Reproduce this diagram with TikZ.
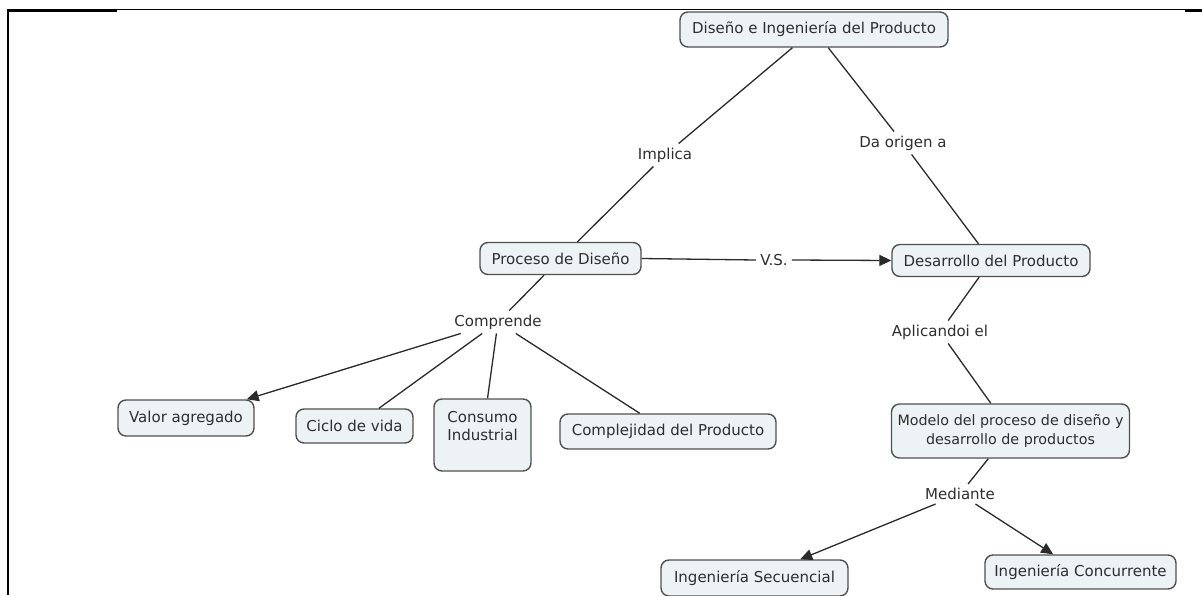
\documentclass[tikz,border=0pt]{standalone}
\usepackage{fontspec}
\setmainfont{DejaVu Sans}
\usetikzlibrary{arrows.meta}
\definecolor{boxfill}{HTML}{EDF2F5}
\definecolor{boxline}{HTML}{505050}
\definecolor{txt}{HTML}{2E2E2E}
\definecolor{lnk}{HTML}{2A2A2A}
\begin{document}
\begin{tikzpicture}[x=1pt,y=-1pt,
  concept/.style={draw=boxline, fill=boxfill, line width=1.4pt, rounded corners=8pt,
    text=txt, font=\fontsize{15}{19}\selectfont, inner sep=0pt, align=center},
  linkword/.style={text=txt, font=\fontsize{15}{18}\selectfont, inner sep=4pt},
  conn/.style={draw=lnk, line width=1.3pt},
  arr/.style={conn, -{Triangle[length=12pt,width=11pt]}},
  frame/.style={draw=black, line cap=butt}
]
\useasboundingbox (0,0) rectangle (1202,595);
% frame
\coordinate (ftl) at (8,9.5);
\coordinate (ftr) at (1202,9.5);
\coordinate (fbl) at (8,595);
\draw[frame, line width=0.9pt] (ftl) -- (ftr);
\draw[frame, line width=2.6pt] (8,10.5) -- (117,10.5);
\draw[frame, line width=2.6pt] (1185,10.5) -- (1202,10.5);
\draw[frame, line width=2.6pt] (8,9) -- (fbl);

% concepts
\node[concept, minimum width=268pt, minimum height=35pt] (top) at (814,29.5) {Diseño e Ingeniería del Producto};
\node[concept, minimum width=161pt, minimum height=32pt] (proc) at (560.5,258.5) {Proceso de Diseño};
\node[concept, minimum width=198pt, minimum height=32pt] (des) at (991,260.5) {Desarrollo del Producto};
\node[concept, minimum width=136pt, minimum height=36pt] (valor) at (186,418) {Valor agregado};
\node[concept, minimum width=117pt, minimum height=34pt] (ciclo) at (354.5,426) {Ciclo de vida};
\node[concept, minimum width=97pt, minimum height=72pt] (cons) at (482.5,435)
  {\parbox[c][72pt][t]{92pt}{\centering\baselineskip=18pt\rule{0pt}{23pt}Consumo\\Industrial}};
\node[concept, minimum width=216pt, minimum height=35pt] (compl) at (668,431.5) {Complejidad del Producto};
\node[concept, minimum width=238pt, minimum height=54pt, font=\fontsize{14.3}{19}\selectfont] (mod) at (1010.5,431) {Modelo del proceso de diseño y\\desarrollo de productos};
\node[concept, minimum width=187pt, minimum height=36pt] (sec) at (754.5,578) {Ingeniería Secuencial};
\node[concept, minimum width=191pt, minimum height=34pt] (conc) at (1080.5,572) {Ingeniería Concurrente};

% linking words
\node[linkword] (impl) at (665,155) {Implica};
\node[linkword] (orig) at (903,143) {Da origen a};
\node[linkword] (vs) at (774,260) {V.S.};
\node[linkword] (comp) at (498,322) {Comprende};
\node[linkword] (apl) at (940,332) {Aplicandoi el};
\node[linkword] (med) at (960,494) {Mediante};

% connectors
\draw[conn] (top) -- (impl);
\draw[conn] (impl) -- (proc);
\draw[conn] (top) -- (orig);
\draw[conn] (orig) -- (des);
\draw[conn] (proc.east) -- (vs.west);
\draw[arr] (vs.east) -- (des.west);
\draw[conn] (proc) -- (comp);
\draw[arr] (comp) -- (valor);
\draw[conn] (comp) -- (ciclo);
\draw[conn] (comp) -- (cons);
\draw[conn] (comp) -- (compl);
\draw[conn] (des) -- (apl);
\draw[conn] (apl) -- (mod);
\draw[conn] (mod) -- (med);
\draw[arr] (med) -- (sec);
\draw[arr] (med) -- (conc);
\end{tikzpicture}
\end{document}
